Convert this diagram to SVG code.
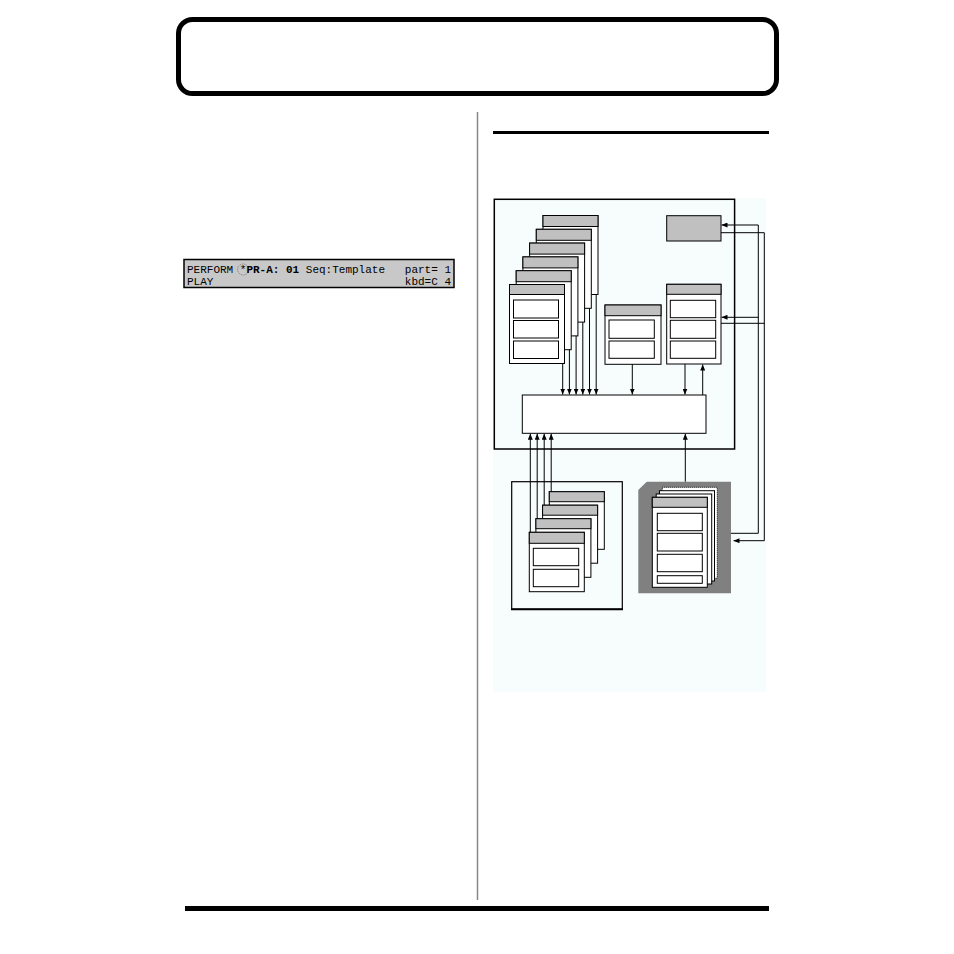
<svg xmlns="http://www.w3.org/2000/svg" width="954" height="954" viewBox="0 0 954 954">
<defs>
<style>
.ln{fill:none;stroke:#000;stroke-width:1}
.card{fill:#fff;stroke:#000;stroke-width:1}
.hdr{fill:#c0c0c0;stroke:#000;stroke-width:1}
.slot{fill:#fff;stroke:#000;stroke-width:1}
.lcd{font-family:"Liberation Mono","DejaVu Sans Mono",monospace;font-size:11px;fill:#000}
.b{font-weight:bold}
</style>
<marker id="ah" markerUnits="userSpaceOnUse" markerWidth="6" markerHeight="5" refX="6" refY="2.5" orient="auto">
<path d="M0,0 L6,2.5 L0,5 z" fill="#000"/>
</marker>
</defs>
<rect width="954" height="954" fill="#fff"/>
<g id="page">
<rect x="178.5" y="19.5" width="598" height="74" rx="14" fill="#fff" stroke="#000" stroke-width="5"/>
<line x1="477.5" y1="112" x2="477.5" y2="900" stroke="#888" stroke-width="1.5"/>
<line x1="493" y1="132.5" x2="769" y2="132.5" stroke="#000" stroke-width="3"/>
<rect x="185" y="906" width="584" height="5" fill="#000"/>
</g>
<g id="lcd">
<rect x="184" y="259.5" width="270" height="28" fill="#c8c8c8" stroke="#000" stroke-width="1.5"/>
<circle cx="243.1" cy="269.5" r="5.5" fill="none" stroke="#777" stroke-width="1" stroke-dasharray="1,1"/>
<text class="lcd" x="187" y="273">PERFORM</text>
<text class="lcd" x="239.8" y="273">*</text>
<text class="lcd b" x="246.4" y="273">PR-A:</text>
<text class="lcd b" x="286" y="273">01</text>
<text class="lcd" x="305.8" y="273">Seq:Template</text>
<text class="lcd" x="404.8" y="273">part= 1</text>
<text class="lcd" x="187" y="284.5">PLAY</text>
<text class="lcd" x="404.8" y="284.5">kbd=C 4</text>
</g>
<rect x="493" y="198" width="273" height="494" fill="#f7fcfc"/>
<g id="main-box">
<rect x="494.3" y="199.3" width="240.3" height="249.7" fill="none" stroke="#000" stroke-width="1.5"/>
</g>
<g id="stack-left">
<rect class="card" x="543" y="215.5" width="55" height="79"/><rect class="hdr" x="543" y="215.5" width="55" height="11"/>
<rect class="card" x="536.3" y="229.3" width="55" height="79"/><rect class="hdr" x="536.3" y="229.3" width="55" height="11"/>
<rect class="card" x="529.6" y="243.1" width="55" height="79"/><rect class="hdr" x="529.6" y="243.1" width="55" height="11"/>
<rect class="card" x="522.9" y="256.9" width="55" height="79"/><rect class="hdr" x="522.9" y="256.9" width="55" height="11"/>
<rect class="card" x="516.2" y="270.7" width="55" height="79"/><rect class="hdr" x="516.2" y="270.7" width="55" height="11"/>
<rect class="card" x="509.5" y="284.5" width="55" height="79"/><rect class="hdr" x="509.5" y="284.5" width="55" height="10"/>
<rect class="slot" x="513.5" y="300" width="45" height="18"/>
<rect class="slot" x="513.5" y="320.5" width="45" height="17.5"/>
<rect class="slot" x="513.5" y="341" width="45" height="17.5"/>
</g>
<g id="card-middle">
<rect class="card" x="605" y="305" width="56" height="59.3"/><rect class="hdr" x="605" y="305" width="56" height="10.7"/>
<rect class="slot" x="609" y="320" width="45.3" height="18.3"/>
<rect class="slot" x="609" y="341" width="45.3" height="17.3"/>
</g>
<g id="card-right">
<rect class="card" x="666.7" y="284.3" width="54.3" height="79.7"/><rect class="hdr" x="666.7" y="284.3" width="54.3" height="10"/>
<rect class="slot" x="670.3" y="300.3" width="45.4" height="17.4"/>
<rect class="slot" x="670.3" y="320.3" width="45.4" height="18"/>
<rect class="slot" x="670.3" y="341" width="45.4" height="17.3"/>
</g>
<g id="gray-box">
<rect class="hdr" x="666.7" y="215.7" width="54.3" height="25.3"/>
</g>
<g id="inner-box">
<rect class="card" x="522.3" y="395" width="183.7" height="38.3"/>
</g>
<g id="lower-left">
<rect x="511.7" y="481.7" width="110.6" height="127.6" fill="none" stroke="#000" stroke-width="1.2"/>
<line x1="511" y1="609.3" x2="623" y2="609.3" stroke="#000" stroke-width="2"/>
<rect class="card" x="549.3" y="491.7" width="55" height="57.6"/><rect class="hdr" x="549.3" y="491.7" width="55" height="10"/>
<rect class="card" x="542.6" y="505.2" width="55" height="58"/><rect class="hdr" x="542.6" y="505.2" width="55" height="10"/>
<rect class="card" x="535.9" y="518.7" width="55" height="58.6"/><rect class="hdr" x="535.9" y="518.7" width="55" height="10"/>
<rect class="card" x="529.3" y="532.3" width="55" height="59.4"/><rect class="hdr" x="529.3" y="532.3" width="55" height="11"/>
<rect class="slot" x="533.3" y="548.3" width="45.4" height="17.4"/>
<rect class="slot" x="533.3" y="569.3" width="45.4" height="17.4"/>
</g>
<g id="gray-stack">
<polygon points="646.7,481.7 731,481.7 731,593.3 638.3,593.3 638.3,490" fill="#808080"/>
<rect x="662.3" y="487.3" width="55" height="91" fill="#fff" stroke="#000" stroke-width="1" stroke-dasharray="1,1"/>
<rect class="card" x="659.5" y="490.7" width="55" height="90.3"/>
<rect class="card" x="656.2" y="494" width="55.5" height="90"/>
<rect class="card" x="652.3" y="497.3" width="55" height="90"/><rect class="hdr" x="652.3" y="497.3" width="55" height="10"/>
<rect class="slot" x="657.3" y="513.3" width="45" height="17.4"/>
<rect class="slot" x="657.3" y="533.3" width="45" height="17.7"/>
<rect class="slot" x="657.3" y="554.3" width="45" height="17.4"/>
<rect class="slot" x="657.3" y="575.7" width="45" height="7.6"/>
</g>
<g id="connectors">
<line class="ln" x1="562.7" y1="363.5" x2="562.7" y2="394.5" marker-end="url(#ah)"/>
<line class="ln" x1="569.4" y1="349.7" x2="569.4" y2="394.5" marker-end="url(#ah)"/>
<line class="ln" x1="576.1" y1="335.9" x2="576.1" y2="394.5" marker-end="url(#ah)"/>
<line class="ln" x1="582.8" y1="322.1" x2="582.8" y2="394.5" marker-end="url(#ah)"/>
<line class="ln" x1="589.5" y1="308.3" x2="589.5" y2="394.5" marker-end="url(#ah)"/>
<line class="ln" x1="596.2" y1="294.5" x2="596.2" y2="394.5" marker-end="url(#ah)"/>
<line class="ln" x1="632.3" y1="364.3" x2="632.3" y2="394.5" marker-end="url(#ah)"/>
<line class="ln" x1="685" y1="364" x2="685" y2="394.5" marker-end="url(#ah)"/>
<line class="ln" x1="702.7" y1="395" x2="702.7" y2="364.5" marker-end="url(#ah)"/>
<line class="ln" x1="530.3" y1="532.3" x2="530.3" y2="433.8" marker-end="url(#ah)"/>
<line class="ln" x1="537.2" y1="518.7" x2="537.2" y2="433.8" marker-end="url(#ah)"/>
<line class="ln" x1="544.2" y1="505.2" x2="544.2" y2="433.8" marker-end="url(#ah)"/>
<line class="ln" x1="551.2" y1="491.7" x2="551.2" y2="433.8" marker-end="url(#ah)"/>
<line class="ln" x1="685.3" y1="481.7" x2="685.3" y2="433.8" marker-end="url(#ah)"/>
<path class="ln" d="M731,533.3 H758.3 V225 H721.5" marker-end="url(#ah)"/>
<path class="ln" d="M758.3,317.3 H721.5" marker-end="url(#ah)"/>
<path class="ln" d="M721,232.7 H764.3 V540.7 H733.5" marker-end="url(#ah)"/>
<path class="ln" d="M721,323.3 H764.3"/>
</g>
</svg>
